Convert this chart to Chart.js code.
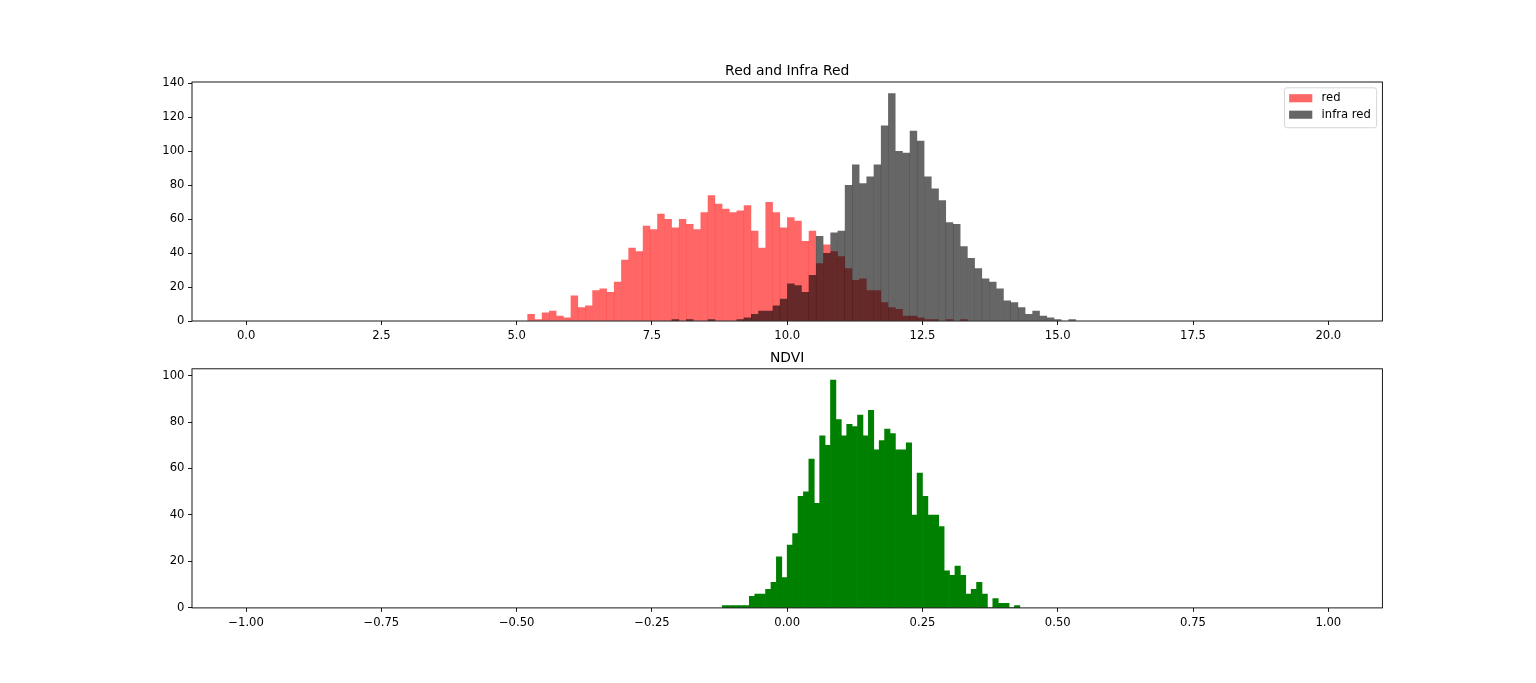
<!DOCTYPE html>
<html>
<head>
<meta charset="utf-8">
<title>Red and Infra Red / NDVI</title>
<script src="https://cdn.jsdelivr.net/npm/chart.js@4.4.1/dist/chart.umd.min.js"></script>
<style>
  html, body { margin: 0; padding: 0; background: #fff; }
  #wrap { position: relative; width: 1536px; height: 683px; }
  canvas { position: absolute; left: 0; }
</style>
</head>
<body>
<div id="wrap">
  <canvas id="bands" width="1536" height="345" style="top:0"></canvas>
  <canvas id="ndvi" width="1536" height="338" style="top:345px"></canvas>
</div>
<script>
// histogram bins
var bandRange = [0, 20];
var bandBins = 150;
var ndviRange = [-1, 1];
var ndviBins = 200;

// counts per bin, from the first bin that holds anything
var redStart = 5.2;
var redCounts = [4, 1, 5, 6, 3, 2, 15, 8, 9, 18, 19, 17, 23, 36, 43, 41, 56, 54, 63, 60,
                 55, 60, 57, 54, 64, 74, 69, 66, 64, 65, 68, 53, 43, 70, 64, 55, 61, 59, 47, 53,
                 34, 45, 41, 38, 31, 24, 25, 18, 18, 11, 8, 7, 3, 3, 2, 1, 1, 0, 1, 0, 1];
var infraStart = 7.87;
var infraCounts = [1, 0, 1, 0, 0, 1, 0, 0, 0, 1, 2, 4, 6, 6, 9, 13, 22, 21, 17, 27,
                   50, 40, 52, 53, 80, 92, 81, 85, 92, 115, 134, 100, 99, 112, 106, 85, 78, 71, 58, 57,
                   44, 37, 31, 25, 23, 19, 12, 11, 8, 4, 6, 3, 2, 1, 0, 1];
var ndviStart = -0.12;
var ndviCounts = [1, 1, 1, 1, 1, 5, 6, 6, 8, 11, 22, 13, 27, 32, 48, 50, 64, 45, 74, 70,
                  98, 81, 74, 79, 78, 83, 74, 85, 68, 72, 77, 75, 68, 68, 71, 40, 58, 48, 40, 40,
                  35, 16, 14, 18, 14, 6, 8, 11, 6, 0, 4, 2, 2, 0, 1];

// tick labels
var bandTicks = [0, 2.5, 5, 7.5, 10, 12.5, 15, 17.5, 20];
var ndviTicks = [-1, -0.75, -0.5, -0.25, 0, 0.25, 0.5, 0.75, 1];
var bandCountTicks = [0, 20, 40, 60, 80, 100, 120, 140];
var ndviCountTicks = [0, 20, 40, 60, 80, 100];

Chart.defaults.font.family = '"DejaVu Sans"';
Chart.defaults.color = '#000';

var tickFont = { size: 11.6 };

function toPoints(range, bins, start, counts) {
    var w = (range[1] - range[0]) / bins;
    var first = Math.round((start - range[0]) / w);
    return counts.map(function (c, i) {
        return { x: range[0] + (first + i + 0.5) * w, y: c };
    });
}

function fixedTicks(list) {
    return function (axis) {
        axis.ticks = list.map(function (v) { return { value: v }; });
    };
}

function minus(s) {
    return s.replace('-', '\u2212');
}

function scales(range, xTicks, digits, yTicks, yMax) {
    var pad = (range[1] - range[0]) * 0.05;
    var grid = { drawOnChartArea: false, offset: false, tickLength: 4, tickColor: '#000', lineWidth: 0.9 };
    return {
        x: {
            type: 'linear', min: range[0] - pad, max: range[1] + pad, offset: false,
            grid: grid, border: { display: false },
            ticks: {
                font: tickFont, color: '#000', padding: 4.5, maxRotation: 0, autoSkip: false,
                callback: function (v) { return minus(v.toFixed(digits)); }
            },
            afterBuildTicks: fixedTicks(xTicks),
            afterFit: function (axis) { axis.height = 24; }
        },
        y: {
            type: 'linear', min: 0, max: yMax,
            grid: grid, border: { display: false },
            ticks: { font: tickFont, color: '#000', padding: 3.5 },
            afterBuildTicks: fixedTicks(yTicks),
            afterFit: function (axis) { axis.width = 40; }
        }
    };
}

// matplotlib-like title above the axes
var axTitle = {
    id: 'axTitle',
    afterDraw: function (chart, args, opts) {
        var a = chart.chartArea, ctx = chart.ctx;
        ctx.save();
        ctx.font = '13.9px "DejaVu Sans"';
        ctx.fillStyle = '#000';
        ctx.textAlign = 'center';
        ctx.textBaseline = 'alphabetic';
        ctx.fillText(opts.text, (a.left + a.right) / 2, a.top - 6.9);
        ctx.restore();
    }
};

// four spines
var frame = {
    id: 'frame',
    afterDatasetsDraw: function (chart) {
        var a = chart.chartArea, ctx = chart.ctx;
        ctx.save();
        ctx.strokeStyle = '#000';
        ctx.lineWidth = 0.9;
        ctx.strokeRect(a.left, a.top, a.right - a.left, a.bottom - a.top);
        ctx.restore();
    }
};

// legend inside the axes, upper right
var boxLegend = {
    id: 'boxLegend',
    afterDraw: function (chart, args, opts) {
        if (!opts.show) return;
        var a = chart.chartArea, ctx = chart.ctx, fs = 11.6;
        var items = chart.data.datasets;
        ctx.save();
        ctx.font = fs + 'px "DejaVu Sans"';
        var tw = Math.max.apply(null, items.map(function (d) { return ctx.measureText(d.label).width; }));
        var w = fs * 3.7 + tw, h = fs * 3.44;
        var x = a.right - fs * 0.5 - w, y = a.top + fs * 0.5;
        ctx.beginPath();
        ctx.roundRect(x, y, w, h, fs * 0.2);
        ctx.fillStyle = 'rgba(255,255,255,0.8)';
        ctx.fill();
        ctx.strokeStyle = 'rgba(204,204,204,0.8)';
        ctx.lineWidth = 1;
        ctx.stroke();
        items.forEach(function (d, i) {
            var cy = y + fs * (0.9 + i * 1.42);
            ctx.fillStyle = d.backgroundColor;
            ctx.fillRect(x + fs * 0.4, cy - fs * 0.35, fs * 2, fs * 0.7);
            ctx.fillStyle = '#000';
            ctx.textAlign = 'left';
            ctx.textBaseline = 'middle';
            ctx.fillText(d.label, x + fs * 3.2, cy);
        });
        ctx.restore();
    }
};

function barStyle(inflate) {
    return { barPercentage: 1, categoryPercentage: 1, borderWidth: 0, inflateAmount: inflate, grouped: false };
}

var bandMax = Math.max.apply(null, redCounts.concat(infraCounts)) * 1.05;
new Chart(document.getElementById('bands'), {
    type: 'bar',
    data: {
        datasets: [
            Object.assign({ label: 'red', data: toPoints(bandRange, bandBins, redStart, redCounts),
                backgroundColor: 'rgba(255,0,0,0.6)', order: 1 }, barStyle(0.12)),
            Object.assign({ label: 'infra red', data: toPoints(bandRange, bandBins, infraStart, infraCounts),
                backgroundColor: 'rgba(0,0,0,0.6)', order: 0 }, barStyle(0.12))
        ]
    },
    options: {
        responsive: false,
        animation: false,
        layout: { padding: { left: 152, right: 153.6, top: 82, bottom: 0 } },
        scales: scales(bandRange, bandTicks, 1, bandCountTicks, bandMax),
        plugins: {
            legend: { display: false },
            tooltip: { enabled: false },
            axTitle: { text: 'Red and Infra Red' },
            boxLegend: { show: true }
        }
    },
    plugins: [axTitle, frame, boxLegend]
});

var ndviMax = Math.max.apply(null, ndviCounts) * 1.05;
new Chart(document.getElementById('ndvi'), {
    type: 'bar',
    data: {
        datasets: [
            Object.assign({ label: 'NDVI', data: toPoints(ndviRange, ndviBins, ndviStart, ndviCounts),
                backgroundColor: 'green' }, barStyle(0.33))
        ]
    },
    options: {
        responsive: false,
        animation: false,
        layout: { padding: { left: 152, right: 153.6, top: 23.8, bottom: 51.1 } },
        scales: scales(ndviRange, ndviTicks, 2, ndviCountTicks, ndviMax),
        plugins: {
            legend: { display: false },
            tooltip: { enabled: false },
            axTitle: { text: 'NDVI' },
            boxLegend: { show: false }
        }
    },
    plugins: [axTitle, frame, boxLegend]
});
</script>
</body>
</html>
